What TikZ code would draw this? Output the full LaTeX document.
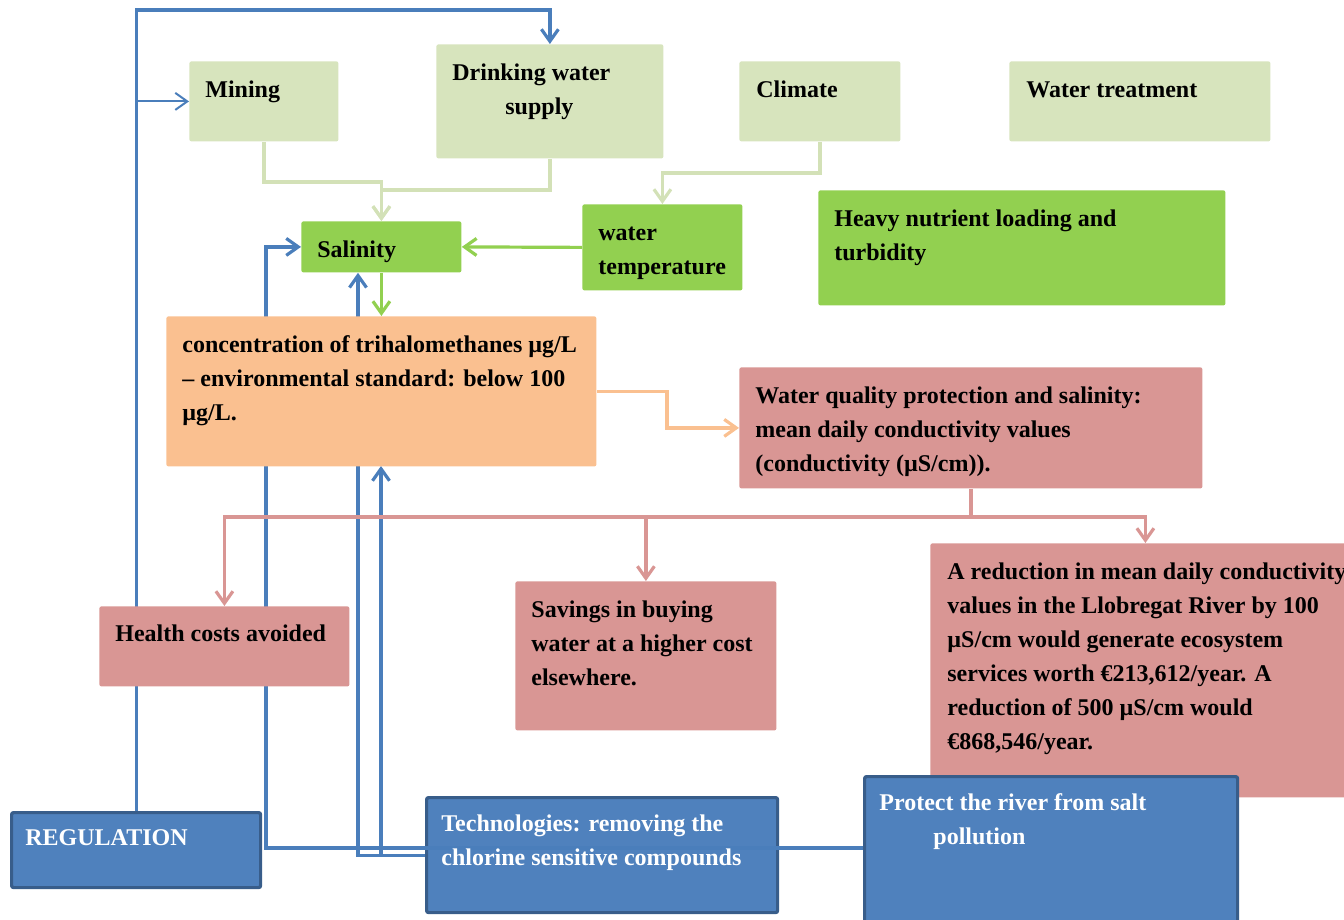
\documentclass[tikz,border=0pt]{standalone}
\usepackage{fontspec}
\setmainfont{Liberation Serif}
\usetikzlibrary{arrows.meta,calc}

\definecolor{paleGreen}{HTML}{D7E4BD}
\definecolor{paleWire}{HTML}{D3E1B7}
\definecolor{leafGreen}{HTML}{92D050}
\definecolor{peach}{HTML}{FAC090}
\definecolor{rose}{HTML}{D99694}
\definecolor{steel}{HTML}{4F81BD}
\definecolor{steelEdge}{HTML}{385D8A}
\definecolor{wire}{HTML}{4A7EBB}

\tikzset{
  box/.style={rectangle, inner sep=0pt, anchor=north west, rounded corners=1pt},
  palebox/.style={box, fill=paleGreen},
  greenbox/.style={box, fill=leafGreen},
  peachbox/.style={box, fill=peach},
  rosebox/.style={box, fill=rose},
  bluebox/.style={box, fill=steel, draw=steelEdge, line width=1.6pt},
  txt/.style={anchor=north west, inner sep=0pt, align=left,
    font=\fontsize{12}{17}\selectfont\bfseries},
  wtxt/.style={txt, text=white},
  tip/.style={-{Straight Barb[length=6pt,width=8.5pt]}},
  bluewire/.style={draw=wire, line width=1.6pt, tip},
  thinwire/.style={draw=wire, line width=1pt, tip},
  palewire/.style={draw=paleWire, line width=1.6pt, tip},
  greenwire/.style={draw=leafGreen, line width=1.6pt, tip},
  peachwire/.style={draw=peach, line width=1.6pt, tip},
  rosewire/.style={draw=rose, line width=1.6pt, tip},
}

\begin{document}
\begin{tikzpicture}[x=0.5pt,y=-0.5pt]
\useasboundingbox (0,0) rectangle (1344,920);
\clip (0,0) rectangle (1344,920);

% technologies box sits beneath the wire that runs through it
\node[bluebox, minimum width=175.5pt, minimum height=57.5pt] (tech) at (425,796) {};

% boxes needed by the blue wires
\path
  node[palebox, minimum width=74.5pt, minimum height=40pt] (mining) at (189,61) {}
  node[palebox, minimum width=113.5pt, minimum height=57pt] (drink) at (436,44) {}
  node[palebox, minimum width=80.5pt, minimum height=40pt] (climate) at (739,61) {}
  node[palebox, minimum width=130.5pt, minimum height=40pt] (wtreat) at (1009,61) {}
  node[greenbox, minimum width=80pt, minimum height=25.5pt] (sal) at (301,221) {};

\node[bluebox, minimum width=124.5pt, minimum height=37.5pt] (reg) at (10,811) {};
\coordinate (protectin) at (863,848);
\coordinate (concbot) at (381,466);

% regulation and technology links
\draw[bluewire] (reg.north) -- (reg.north |- 0,10) -| (drink.north);
\draw[thinwire] (reg.north |- mining.west) -- (mining.west);
\draw[bluewire] (protectin) -- (266,848) |- (sal.west);
\draw[bluewire] (tech.west) -| (358,0 |- sal.south);
\draw[bluewire] (tech.west) -| (concbot);

% boxes drawn over the wires
\node[greenbox, minimum width=80pt, minimum height=43pt] (wtemp) at (582,204) {};
\node[greenbox, minimum width=203.5pt, minimum height=57.5pt] (heavy) at (818,190) {};
\node[peachbox, minimum width=215pt, minimum height=75pt] (conc) at (166,316) {};
\node[rosebox, minimum width=231.5pt, minimum height=60.5pt] (wq) at (739,367) {};
\node[rosebox, minimum width=125pt, minimum height=40pt] (health) at (99,606) {};
\node[rosebox, minimum width=130.5pt, minimum height=74.5pt] (savings) at (515,581) {};
\node[rosebox, minimum width=215pt, minimum height=127pt] (reduce) at (930,543) {};
\node[bluebox, minimum width=186.5pt, minimum height=92.5pt] (protect) at (863,775) {};

% driver links
\draw[palewire] (mining.south) -- (mining.south |- 0,182) -| (sal.north);
\draw[palewire] (drink.south) -- (drink.south |- 0,190) -| (sal.north);
\draw[palewire] (climate.south) -- (climate.south |- 0,173) -| (wtemp.north);
\draw[greenwire] (wtemp.west) -- (sal.east);
\draw[greenwire] (sal.south) -- (conc.north);
\draw[peachwire] (conc.east) -| (667,0 |- wq.west) -- (wq.west);

% outcome links
\coordinate (split) at (wq.south |- 0,517);
\draw[rosewire] (wq.south) -- (split) -| (health.north);
\draw[rosewire] (split) -| (savings.north);
\draw[rosewire] (split) -| (reduce.north);

% labels
\node[txt] (tmining) at ($(mining.north west)+(16,12)$) {\strut Mining};
\node[txt] (tdrink) at ($(drink.north west)+(16,12)$) {\strut Drinking water\\\hspace*{26.5pt}supply};
\node[txt] (tclimate) at ($(climate.north west)+(17,12)$) {\strut Climate};
\node[txt] (twtreat) at ($(wtreat.north west)+(17,12)$) {\strut Water treatment};
\node[txt] (tsal) at ($(sal.north west)+(16,12)$) {\strut Salinity};
\node[txt] (twtemp) at ($(wtemp.north west)+(16,12)$) {\strut water\\temperature};
\node[txt] (theavy) at ($(heavy.north west)+(16,12)$) {\strut Heavy nutrient loading and\\turbidity};
\node[txt] (tconc) at ($(conc.north west)+(16,12)$) {\strut concentration of trihalomethanes µg/L\\– environmental standard: below 100\\µg/L.};
\node[txt] (twq) at ($(wq.north west)+(16,12)$) {\strut Water quality protection and salinity:\\mean daily conductivity values\\(conductivity (µS/cm)).};
\node[txt] (thealth) at ($(health.north west)+(16,11)$) {\strut Health costs avoided};
\node[txt] (tsavings) at ($(savings.north west)+(16,12)$) {\strut Savings in buying\\water at a higher cost\\elsewhere.};
\node[txt] (treduce) at ($(reduce.north west)+(17,12)$) {\strut A reduction in mean daily conductivity\\values in the Llobregat River by 100\\µS/cm would generate ecosystem\\services worth €213,612/year. A\\reduction of 500 µS/cm would\\€868,546/year.};
\node[wtxt] (treg) at ($(reg.north west)+(15,10)$) {\strut REGULATION};
\node[wtxt] (ttech) at ($(tech.north west)+(16,11)$) {\strut Technologies: removing the\\chlorine sensitive compounds};
\node[wtxt] (tprotect) at ($(protect.north west)+(16,11)$) {\strut Protect the river from salt\\\hspace*{27pt}pollution};
\end{tikzpicture}
\end{document}
